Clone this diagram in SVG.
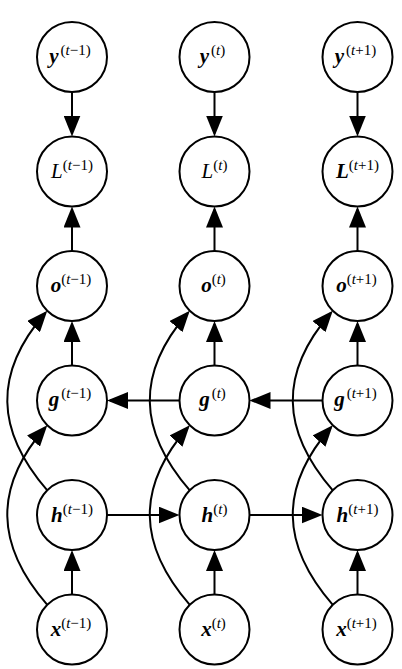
<svg xmlns="http://www.w3.org/2000/svg" width="402" height="669" viewBox="0 0 402 669">
<style>
.node circle{fill:#fff;stroke:#000;stroke-width:2}
.lbl{font-family:"Liberation Serif","Times New Roman",serif;fill:#000;text-anchor:middle}
.m{font-size:21px;font-style:italic;font-weight:bold}
.mr{font-size:21px;font-style:italic;font-weight:normal}
.s{font-size:15px;font-style:normal;font-weight:normal}
.i{font-style:italic}
.edge{fill:none;stroke:#000;stroke-width:2;marker-end:url(#ah)}
</style>
<defs>
<marker id="ah" markerWidth="21" markerHeight="17" refX="18" refY="8.5" orient="auto" markerUnits="userSpaceOnUse" viewBox="0 0 21 17"><path d="M0,0 L21,8.5 L0,17 z" fill="#000"/></marker>
</defs>
<rect width="402" height="669" fill="#fff"/>
<g id="connectors">
<path class="edge" d="M72,92 L72,133.5"/>
<path class="edge" d="M214.5,92 L214.5,133.5"/>
<path class="edge" d="M357.5,92 L357.5,133.5"/>
<path class="edge" d="M72,251 L72,209.5"/>
<path class="edge" d="M214.5,251 L214.5,209.5"/>
<path class="edge" d="M357.5,251 L357.5,209.5"/>
<path class="edge" d="M72,365.5 L72,324"/>
<path class="edge" d="M214.5,365.5 L214.5,324"/>
<path class="edge" d="M357.5,365.5 L357.5,324"/>
<path class="edge" d="M72,594.5 L72,553"/>
<path class="edge" d="M214.5,594.5 L214.5,553"/>
<path class="edge" d="M357.5,594.5 L357.5,553"/>
<path class="edge" d="M179.5,400.5 L110,400.5"/>
<path class="edge" d="M322.5,400.5 L252.5,400.5"/>
<path class="edge" d="M107,515 L176.5,515"/>
<path class="edge" d="M249.5,515 L319.5,515"/>
<path class="edge" d="M47.3,490.3 C-4.7,430.3 -6.7,373 45.3,313"/>
<path class="edge" d="M47.3,604.8 C-4.7,544.8 -6.7,487.5 45.3,427.5"/>
<path class="edge" d="M189.8,490.3 C137.8,430.3 135.8,373 187.8,313"/>
<path class="edge" d="M189.8,604.8 C137.8,544.8 135.8,487.5 187.8,427.5"/>
<path class="edge" d="M332.8,490.3 C280.8,430.3 278.8,373 330.8,313"/>
<path class="edge" d="M332.8,604.8 C280.8,544.8 278.8,487.5 330.8,427.5"/>
</g>
<g id="y-tm1" class="node"><circle cx="72" cy="57" r="35"/><text class="lbl" x="70" y="63"><tspan class="m">y</tspan><tspan class="s" dy="-8" dx="2">(<tspan class="i">t</tspan>−1)</tspan></text></g>
<g id="y-t" class="node"><circle cx="214.5" cy="57" r="35"/><text class="lbl" x="212.5" y="63"><tspan class="m">y</tspan><tspan class="s" dy="-8" dx="2">(<tspan class="i">t</tspan>)</tspan></text></g>
<g id="y-tp1" class="node"><circle cx="357.5" cy="57" r="35"/><text class="lbl" x="355.5" y="63"><tspan class="m">y</tspan><tspan class="s" dy="-8" dx="2">(<tspan class="i">t</tspan>+1)</tspan></text></g>
<g id="L-tm1" class="node"><circle cx="72" cy="171.5" r="35"/><text class="lbl" x="72" y="178"><tspan class="mr">L</tspan><tspan class="s" dy="-8">(<tspan class="i">t</tspan>−1)</tspan></text></g>
<g id="L-t" class="node"><circle cx="214.5" cy="171.5" r="35"/><text class="lbl" x="214.5" y="178"><tspan class="mr">L</tspan><tspan class="s" dy="-8">(<tspan class="i">t</tspan>)</tspan></text></g>
<g id="L-tp1" class="node"><circle cx="357.5" cy="171.5" r="35"/><text class="lbl" x="357.5" y="178"><tspan class="m">L</tspan><tspan class="s" dy="-8">(<tspan class="i">t</tspan>+1)</tspan></text></g>
<g id="o-tm1" class="node"><circle cx="72" cy="286" r="35"/><text class="lbl" x="71" y="292"><tspan class="m">o</tspan><tspan class="s" dy="-8">(<tspan class="i">t</tspan>−1)</tspan></text></g>
<g id="o-t" class="node"><circle cx="214.5" cy="286" r="35"/><text class="lbl" x="213.5" y="292"><tspan class="m">o</tspan><tspan class="s" dy="-8">(<tspan class="i">t</tspan>)</tspan></text></g>
<g id="o-tp1" class="node"><circle cx="357.5" cy="286" r="35"/><text class="lbl" x="356.5" y="292"><tspan class="m">o</tspan><tspan class="s" dy="-8">(<tspan class="i">t</tspan>+1)</tspan></text></g>
<g id="g-tm1" class="node"><circle cx="72" cy="400.5" r="35"/><text class="lbl" x="70" y="406"><tspan class="m">g</tspan><tspan class="s" dy="-8" dx="2">(<tspan class="i">t</tspan>−1)</tspan></text></g>
<g id="g-t" class="node"><circle cx="214.5" cy="400.5" r="35"/><text class="lbl" x="212.5" y="406"><tspan class="m">g</tspan><tspan class="s" dy="-8" dx="2">(<tspan class="i">t</tspan>)</tspan></text></g>
<g id="g-tp1" class="node"><circle cx="357.5" cy="400.5" r="35"/><text class="lbl" x="355.5" y="406"><tspan class="m">g</tspan><tspan class="s" dy="-8" dx="2">(<tspan class="i">t</tspan>+1)</tspan></text></g>
<g id="h-tm1" class="node"><circle cx="72" cy="515" r="35"/><text class="lbl" x="72" y="522"><tspan class="m">h</tspan><tspan class="s" dy="-8">(<tspan class="i">t</tspan>−1)</tspan></text></g>
<g id="h-t" class="node"><circle cx="214.5" cy="515" r="35"/><text class="lbl" x="214.5" y="522"><tspan class="m">h</tspan><tspan class="s" dy="-8">(<tspan class="i">t</tspan>)</tspan></text></g>
<g id="h-tp1" class="node"><circle cx="357.5" cy="515" r="35"/><text class="lbl" x="357.5" y="522"><tspan class="m">h</tspan><tspan class="s" dy="-8">(<tspan class="i">t</tspan>+1)</tspan></text></g>
<g id="x-tm1" class="node"><circle cx="72" cy="629.5" r="35"/><text class="lbl" x="71" y="636"><tspan class="m">x</tspan><tspan class="s" dy="-8">(<tspan class="i">t</tspan>−1)</tspan></text></g>
<g id="x-t" class="node"><circle cx="214.5" cy="629.5" r="35"/><text class="lbl" x="213.5" y="636"><tspan class="m">x</tspan><tspan class="s" dy="-8">(<tspan class="i">t</tspan>)</tspan></text></g>
<g id="x-tp1" class="node"><circle cx="357.5" cy="629.5" r="35"/><text class="lbl" x="356.5" y="636"><tspan class="m">x</tspan><tspan class="s" dy="-8">(<tspan class="i">t</tspan>+1)</tspan></text></g>
</svg>
